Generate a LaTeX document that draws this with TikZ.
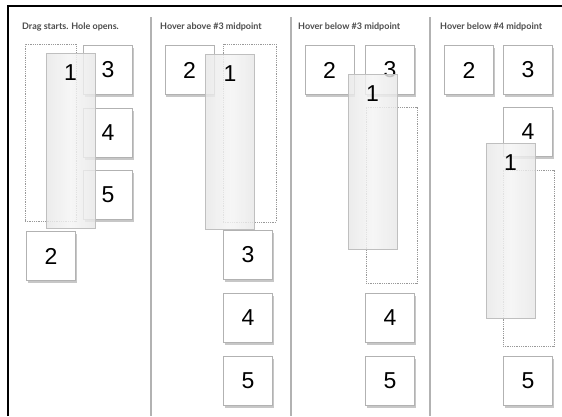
\documentclass[tikz,border=0pt]{standalone}
\usepackage{fontspec}
\setmainfont{Lato}
\newfontfamily\digitfont{Liberation Sans}
\usetikzlibrary{shadows}

\begin{document}
\begin{tikzpicture}[
          x=1pt, y=-1pt,
          title/.style={anchor=west, inner sep=0pt, font=\fontsize{9}{10}\selectfont\bfseries, text=black!70},
          card/.style={draw=black!30, fill=white, minimum width=49pt, minimum height=49pt, inner sep=0pt,
                       font=\digitfont\fontsize{23}{23}\selectfont,
                       drop shadow={shadow xshift=1pt, shadow yshift=-2.5pt, opacity=.4, fill=black!55}},
          dragged/.style={draw=black!25, left color=black!9, right color=black!9, middle color=black!4,
                          fill opacity=.82, minimum width=49pt, minimum height=175pt, inner sep=0pt,
                          label={[anchor=north, yshift=-8pt, font=\digitfont\fontsize{23}{23}\selectfont]north:1}},
          hole/.style={draw=black!40, densely dotted, line width=.8pt, inner sep=0pt,
                       minimum width=51pt, minimum height=177pt},
          sep/.style={draw=black!30, line width=1.3pt}
        ]
        \useasboundingbox (0,0) rectangle (562,416);
        \clip (0,0) rectangle (562,416);
        \fill[white] (0,0) rectangle (562,416);

        % frame and column rules
        \draw[line width=1.4pt, black] (8,416) -- (8,6) -- (562,6);
        \draw[sep] (151,17) -- (151,416);
        \draw[sep] (291,17) -- (291,416);
        \draw[sep] (430,17) -- (430,416);

        \node[title] (ta) at (22,27) {Drag starts. Hole opens.};
        \node[title] (tb) at (160,27) {Hover above \#3 midpoint};
        \node[title] (tc) at (298,27) {Hover below \#3 midpoint};
        \node[title] (td) at (440,27) {Hover below \#4 midpoint};

        % drag starts
        \node[hole] (ahole) at (50.5,132.5) {};
        \node[card] (a3) at (108,70) {3};
        \node[card] (a4) at (108,133) {4};
        \node[card] (a5) at (108,195) {5};
        \node[card] (a2) at (51,256) {2};
        \node[dragged] (a1) at (70.5,141) {};

        % above #3
        \node[hole, minimum width=53pt, minimum height=178pt] (bhole) at (249.5,133) {};
        \node[card] (b2) at (189.5,70) {2};
        \node[card] (b3) at (248,255) {3};
        \node[card] (b4) at (248,318) {4};
        \node[card] (b5) at (248,381) {5};
        \node[dragged] (b1) at (230,142) {};

        % below #3
        \node[hole, minimum height=176pt] (chole) at (391.5,195) {};
        \node[card] (c2) at (329.5,70) {2};
        \node[card] (c3) at (390,70) {3};
        \node[card] (c4) at (390,318) {4};
        \node[card] (c5) at (390,381) {5};
        \node[dragged] (c1) at (372.5,161.5) {};

        % below #4
        \node[hole, minimum height=176pt] (dhole) at (528.5,258) {};
        \node[card] (d2) at (469,70) {2};
        \node[card] (d3) at (528,70) {3};
        \node[card] (d4) at (528,132) {4};
        \node[card] (d5) at (528,381) {5};
        \node[dragged] (d1) at (510.5,230.5) {};
      \end{tikzpicture}
\end{document}
